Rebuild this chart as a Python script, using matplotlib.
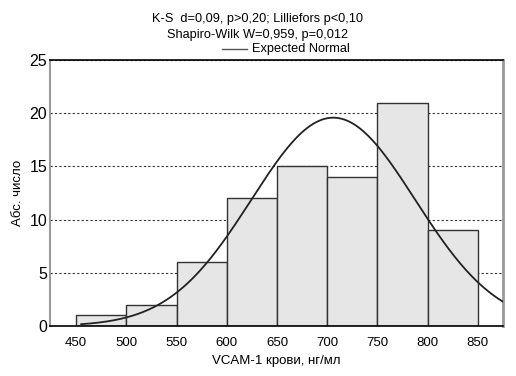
import matplotlib.pyplot as plt
import numpy as np

# данные гистограммы
bin_edges = [450, 500, 550, 600, 650, 700, 750, 800, 850]
counts = [1, 2, 6, 12, 15, 14, 21, 9]
# параметры ожидаемого нормального распределения
mean_val = 706.0
sd_val = 81.5
n_total = sum(counts)
bin_width = 50

plt.rcParams['font.family'] = ['Liberation Sans', 'DejaVu Sans']

fig = plt.figure(figsize=(5.16, 3.76), dpi=100)
ax = fig.add_axes([50/516, 1 - 326/376, 453/516, 266/376])

lefts = bin_edges[:-1]
ax.bar(lefts, counts, width=bin_width, align='edge', color='#e6e6e6',
       edgecolor='#333333', linewidth=1.0, zorder=2)

xs = np.linspace(455, 876, 300)
ys = n_total * bin_width / (sd_val * np.sqrt(2*np.pi)) * np.exp(-0.5*((xs - mean_val)/sd_val)**2)
ax.plot(xs, ys, color='#222222', linewidth=1.3, zorder=3)

ax.set_xlim(424, 875)
ax.set_ylim(0, 25)
ax.set_xticks(bin_edges)
ax.set_yticks([0, 5, 10, 15, 20, 25])
ax.yaxis.grid(True, linestyle=(0, (2, 2)), color='#333333', linewidth=0.8, zorder=0)
ax.set_axisbelow(True)
ax.tick_params(axis='x', length=0, pad=8, labelsize=9.5)
ax.tick_params(axis='y', length=0, pad=2, labelsize=11.5)

for s in ['top', 'bottom']:
    ax.spines[s].set_color('black')
    ax.spines[s].set_linewidth(1.2)
ax.spines['left'].set_color('#999999')
ax.spines['left'].set_linewidth(1.5)
ax.spines['right'].set_color('#999999')
ax.spines['right'].set_linewidth(2)

ax.set_xlabel('VCAM-1 крови, нг/мл', fontsize=9.5, labelpad=4)
ax.set_ylabel('Абс. число', fontsize=9.5, labelpad=4)

fig.text(0.5, 1 - 19/376, 'K-S  d=0,09, p>0,20; Lilliefors p<0,10',
         ha='center', va='center', fontsize=9.2)
fig.text(0.5, 1 - 35/376, 'Shapiro-Wilk W=0,959, p=0,012',
         ha='center', va='center', fontsize=9.2)
fig.text(252/516, 1 - 49/376, 'Expected Normal', ha='left', va='center', fontsize=9.2)
fig.add_artist(plt.Line2D([222/516, 247/516], [1 - 49/376, 1 - 49/376],
                          color='#555555', linewidth=1.0))

fig.savefig('out.png', dpi=100)
